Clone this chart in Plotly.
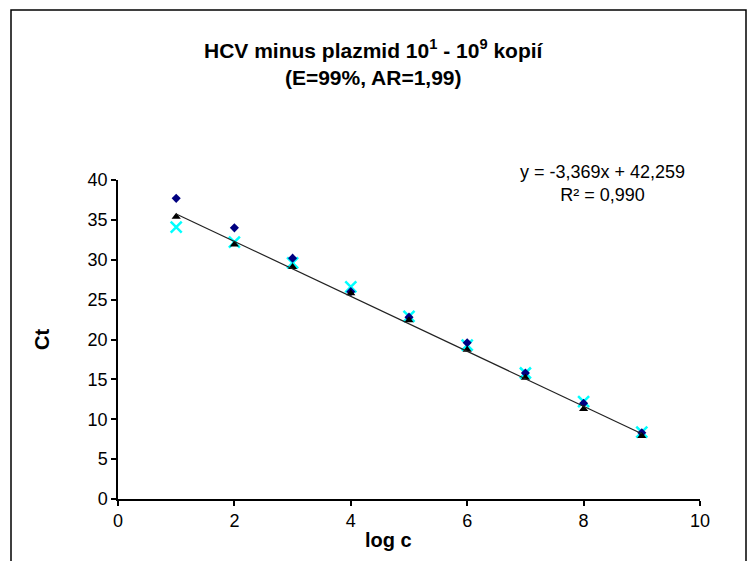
import numpy as np
import plotly.graph_objects as go

log_c = [1, 2, 3, 4, 5, 6, 7, 8, 9]
ct_dots = [37.7, 34.0, 30.2, 26.0, 22.8, 19.6, 15.8, 12.0, 8.3]
ct_triangles = [35.4, 31.9, 29.1, 25.8, 22.4, 18.7, 15.2, 11.3, 7.9]
ct_crosses = [34.1, 32.2, 29.6, 26.6, 22.9, 19.3, 15.8, 12.2, 8.4]

x_ticks = [0, 2, 4, 6, 8, 10]
y_ticks = [0, 5, 10, 15, 20, 25, 30, 35, 40]

slope, intercept = np.polyfit(log_c, ct_triangles, 1)
fit_x = [log_c[0], log_c[-1]]
fit_y = [slope * v + intercept for v in fit_x]

W, H = 755, 561
L, R, T, B = 118, 55, 180, 62

fig = go.Figure()
fig.add_trace(go.Scatter(x=log_c, y=ct_crosses, mode="markers",
                         marker=dict(symbol="x-thin", size=11, line=dict(color="#00FFFF", width=2.5)),
                         showlegend=False))
fig.add_trace(go.Scatter(x=log_c, y=ct_dots, mode="markers",
                         marker=dict(symbol="diamond", size=7, color="#000080"),
                         showlegend=False))
fig.add_trace(go.Scatter(x=log_c, y=ct_triangles, mode="markers",
                         marker=dict(symbol="triangle-up", size=8, color="black"),
                         showlegend=False))
fig.add_trace(go.Scatter(x=fit_x, y=fit_y, mode="lines",
                         line=dict(color="#222222", width=1.2), showlegend=False))

font = "Liberation Sans, Arial, sans-serif"
fig.update_layout(
    width=W, height=H,
    margin=dict(l=L, r=R, t=T, b=B),
    paper_bgcolor="white", plot_bgcolor="white",
    font=dict(family=font, color="black", size=18),
    xaxis=dict(range=[0, 10], tickvals=x_ticks, showgrid=False, zeroline=False,
               showline=True, linecolor="black", linewidth=1.5,
               ticks="outside", ticklen=5, tickcolor="black", tickwidth=1.5,
               tickfont=dict(size=18)),
    yaxis=dict(range=[0, 40], tickvals=y_ticks, showgrid=False, zeroline=False,
               showline=True, linecolor="black", linewidth=1.5,
               ticks="outside", ticklen=5, tickcolor="black", tickwidth=1.5,
               tickfont=dict(size=18)),
    shapes=[dict(type="rect", xref="paper", yref="paper",
                 x0=(11 - L) / (W - L - R), x1=(746 - L) / (W - L - R),
                 y0=-(575 - (H - B)) / (H - T - B), y1=(H - B - 10) / (H - T - B),
                 line=dict(color="black", width=1.5))],
    annotations=[
        dict(text="<b>HCV minus plazmid 10<sup>1</sup> - 10<sup>9</sup> kopií<br>(E=99%, AR=1,99)</b>",
             xref="paper", yref="paper", x=(374 - L) / (W - L - R), y=(H - B - 63) / (H - T - B),
             xanchor="center", yanchor="middle", showarrow=False, font=dict(size=21)),
        dict(text="y = -3,369x + 42,259<br>R² = 0,990",
             xref="paper", yref="paper", x=(602 - L) / (W - L - R), y=(H - B - 184) / (H - T - B),
             xanchor="center", yanchor="middle", showarrow=False, font=dict(size=18)),
        dict(text="<b>Ct</b>", xref="paper", yref="paper",
             x=(42 - L) / (W - L - R), y=(H - B - 340) / (H - T - B),
             xanchor="center", yanchor="middle", showarrow=False, textangle=-90, font=dict(size=20)),
        dict(text="<b>log c</b>", xref="paper", yref="paper",
             x=(388 - L) / (W - L - R), y=-(540 - (H - B)) / (H - T - B),
             xanchor="center", yanchor="middle", showarrow=False, font=dict(size=20)),
    ],
)

fig.write_html("out.html")
